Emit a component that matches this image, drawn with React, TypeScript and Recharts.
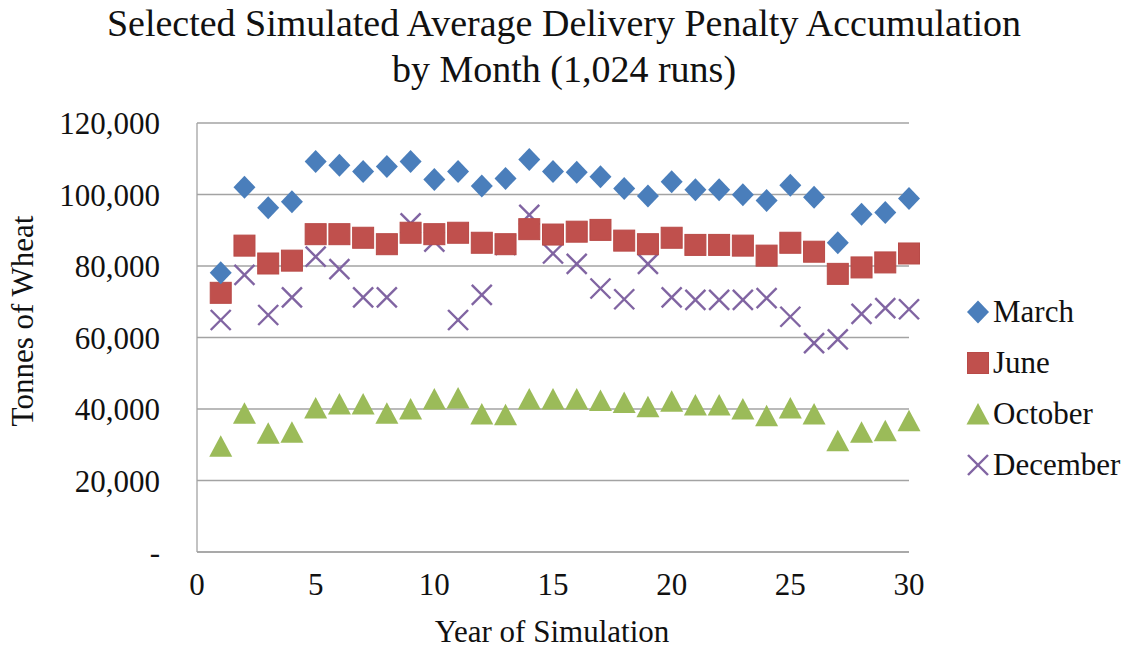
import React from 'react';
import { ScatterChart, Scatter, XAxis, YAxis, CartesianGrid } from 'recharts';

const FONT = '"Liberation Serif", "Times New Roman", serif';

const YEARS = [1, 2, 3, 4, 5, 6, 7, 8, 9, 10, 11, 12, 13, 14, 15, 16, 17, 18, 19, 20, 21, 22, 23, 24, 25, 26, 27, 28, 29, 30];

const MARCH = [78100, 102000, 96300, 98000, 109200, 108200, 106400, 107800, 109200, 104200, 106400, 102400, 104500, 109800, 106400,
  106200, 105000, 101700, 99600, 103600, 101300, 101300, 99900, 98300, 102600, 99200, 86500, 94500, 95000, 98900];
const JUNE = [72500, 85700, 80700, 81500, 88900, 88900, 87900, 86100, 89300, 88900, 89300, 86500, 86100, 90300, 88800,
  89600, 90100, 87100, 86100, 87900, 85900, 85900, 85700, 82900, 86500, 84000, 77800, 79600, 81000, 83500];
const OCTOBER = [29600, 38800, 33200, 33500, 40300, 41400, 41400, 38800, 40000, 42800, 43100, 38600, 38400, 42800, 42800,
  42800, 42400, 41800, 40600, 42200, 41100, 41100, 40000, 38100, 40300, 38600, 31100, 33500, 33900, 36700];
const DECEMBER = [64900, 77500, 66300, 71200, 82600, 79100, 71200, 71200, 91900, 86800, 64900, 71900, 85900, 94300, 83500,
  80600, 73700, 70700, 80600, 71200, 70500, 70500, 70500, 71000, 65800, 58400, 59500, 66600, 68200, 67900];

const X_TICKS = [0, 5, 10, 15, 20, 25, 30];
const Y_TICKS = [0, 20000, 40000, 60000, 80000, 100000, 120000];

const COLORS = { march: '#4A7EBB', june: '#C0504D', october: '#9BBB59', december: '#8064A2' };

const toPoints = (values: number[]) => YEARS.map((year, i) => ({ year, value: values[i] }));

const Diamond = ({ cx, cy }: any) => (
  <path d={`M${cx},${cy - 11.5} L${cx + 11},${cy} L${cx},${cy + 11.5} L${cx - 11},${cy} Z`} fill={COLORS.march} />
);
const Square = ({ cx, cy }: any) => (
  <rect x={cx - 10.5} y={cy - 10.5} width={21} height={21} fill={COLORS.june} stroke="#B84A47" strokeWidth={1} />
);
const Triangle = ({ cx, cy }: any) => (
  <path d={`M${cx},${cy - 11} L${cx + 11.5},${cy + 10.5} L${cx - 11.5},${cy + 10.5} Z`} fill={COLORS.october} />
);
const Cross = ({ cx, cy }: any) => (
  <g stroke={COLORS.december} strokeWidth={2.4}>
    <line x1={cx - 10} y1={cy - 10} x2={cx + 10} y2={cy + 10} />
    <line x1={cx - 10} y1={cy + 10} x2={cx + 10} y2={cy - 10} />
  </g>
);

const LEGEND = [
  { name: 'March', Shape: Diamond },
  { name: 'June', Shape: Square },
  { name: 'October', Shape: Triangle },
  { name: 'December', Shape: Cross },
];

const tickStyle = { fontFamily: FONT, fontSize: 31, fill: '#111' };

export default function App() {
  return (
    <div style={{ position: 'absolute', left: 0, top: 0, width: 1128, height: 650, background: '#fff', fontFamily: FONT, color: '#111' }}>
      <div style={{ position: 'absolute', left: 0, width: 1128, top: 0, textAlign: 'center', fontSize: 38, lineHeight: '46px' }}>
        <div>Selected Simulated Average Delivery Penalty Accumulation</div>
        <div>by Month (1,024 runs)</div>
      </div>

      <ScatterChart width={1128} height={650} margin={{ top: 123, right: 219, bottom: 58, left: 77 }}>
        <CartesianGrid horizontal vertical={false} stroke="#a3a3a3" strokeWidth={1.3} />
        <XAxis
          type="number"
          dataKey="year"
          domain={[0, 30]}
          ticks={X_TICKS}
          height={40}
          tickSize={0}
          tickMargin={21}
          axisLine={{ stroke: '#a3a3a3', strokeWidth: 1.3 }}
          tick={tickStyle}
          interval={0}
        />
        <YAxis
          type="number"
          dataKey="value"
          domain={[0, 120000]}
          ticks={Y_TICKS}
          width={120}
          tickSize={0}
          tickMargin={37}
          axisLine={{ stroke: '#a3a3a3', strokeWidth: 1.3 }}
          tick={tickStyle}
          interval={0}
          tickFormatter={(v: number) => (v === 0 ? '-' : v.toLocaleString('en-US'))}
        />
        <Scatter name="October" data={toPoints(OCTOBER)} shape={(p: any) => <Triangle {...p} />} isAnimationActive={false} />
        <Scatter name="December" data={toPoints(DECEMBER)} shape={(p: any) => <Cross {...p} />} isAnimationActive={false} />
        <Scatter name="June" data={toPoints(JUNE)} shape={(p: any) => <Square {...p} />} isAnimationActive={false} />
        <Scatter name="March" data={toPoints(MARCH)} shape={(p: any) => <Diamond {...p} />} isAnimationActive={false} />
      </ScatterChart>

      <div style={{ position: 'absolute', left: 0, top: 0 }}>
        <div style={{ position: 'absolute', left: 330, top: 612, width: 444, textAlign: 'center', fontSize: 31, lineHeight: '40px' }}>
          Year of Simulation
        </div>
        <div
          style={{
            position: 'absolute', left: 23 - 150, top: 321 - 20, width: 300, height: 40, textAlign: 'center',
            fontSize: 31, lineHeight: '40px', transform: 'rotate(-90deg)',
          }}
        >
          Tonnes of Wheat
        </div>
        <div style={{ position: 'absolute', left: 966, top: 286 }}>
          {LEGEND.map(({ name, Shape }) => (
            <div key={name} style={{ display: 'flex', alignItems: 'center', height: 51 }}>
              <svg width={24} height={26}>
                <Shape cx={12} cy={13} />
              </svg>
              <span style={{ marginLeft: 3, fontSize: 31 }}>{name}</span>
            </div>
          ))}
        </div>
      </div>
    </div>
  );
}
